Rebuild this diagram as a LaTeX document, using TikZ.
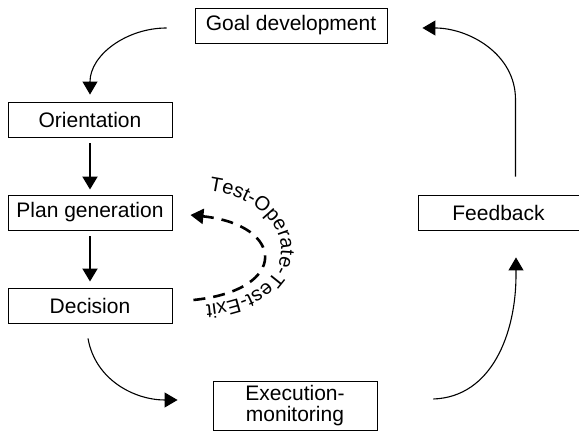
\documentclass[tikz,border=0pt]{standalone}
\usepackage{fontspec}
\setmainfont{Liberation Sans}
\usetikzlibrary{arrows.meta,decorations.text}
\begin{document}
\begin{tikzpicture}[x=1pt,y=1pt,
  box/.style={draw, line width=0.9pt, inner sep=0pt, minimum height=35pt,
    font=\fontsize{21}{22}\selectfont},
  tip/.style={-{Triangle[length=13pt,width=15pt]}},
  flow/.style={tip, line width=1.1pt},
  straight/.style={tip, line width=2pt},
  tote/.style={tip, line width=2.6pt, dash pattern=on 12pt off 8pt}]
\useasboundingbox (0,0) rectangle (579,431);

% process boxes
\node[box, minimum width=192pt] (goal) at (291,405.5) {Goal development};
\node[box, minimum width=164pt] (orient) at (90,311.5) {Orientation};
\node[box, minimum width=164pt] (plan) at (90,218.5) {Plan generation};
\node[box, minimum width=164pt] (decision) at (90,125.5) {Decision};
\node[box, minimum width=164pt, minimum height=49pt, align=center,
  font=\fontsize{21}{21}\selectfont] (exec) at (295,25.5) {Execution-\\monitoring};
\node[box, minimum width=161pt] (feedback) at (498.5,218.5) {Feedback};

% connector end points kept clear of the boxes
\coordinate (g1) at ([shift={(-28,-2.5)}]goal.west);
\coordinate (o1) at ([yshift=7]orient.north);
\coordinate (d1) at ([shift={(-2,-15)}]decision.south);
\coordinate (x1) at ([shift={(-35,5.5)}]exec.west);
\coordinate (x2) at ([shift={(56,6.5)}]exec.east);
\coordinate (f0) at ([shift={(17.5,-44.5)}]feedback.south);
\coordinate (f1) at ([shift={(17.5,-27)}]feedback.south);
\coordinate (f2) at ([shift={(17,18)}]feedback.north);
\coordinate (f3) at ([shift={(17,95)}]feedback.north);
\coordinate (g2) at ([shift={(35,-2.5)}]goal.east);
\coordinate (t0) at ([shift={(21,5.5)}]decision.east);
\coordinate (t1) at ([shift={(18,-2.5)}]plan.east);

% main cycle
\draw[flow] (g1) to[out=180,in=90] (o1);
\draw[straight, shorten <=6pt, shorten >=5pt] (orient.south) -- (plan.north);
\draw[straight, shorten <=6pt, shorten >=6pt] (plan.south) -- (decision.north);
\draw[flow] (d1) to[out=-80,in=180] (x1);
\draw[flow] (x2) to[out=2,in=-90] (f0) -- (f1);
\draw[flow] (f2) -- (f3) to[out=90,in=0] (g2);

% test-operate-test-exit loop
\draw[tote] (t0) .. controls (290,141) and (285,206) .. (t1);
\path[decorate, decoration={text along path, text align=center,
  text={|\fontsize{20}{24}\selectfont|Test-Operate-Test-Exit}}]
  (203,241) .. controls (305,231) and (310,131) .. (200,126);
\end{tikzpicture}
\end{document}
